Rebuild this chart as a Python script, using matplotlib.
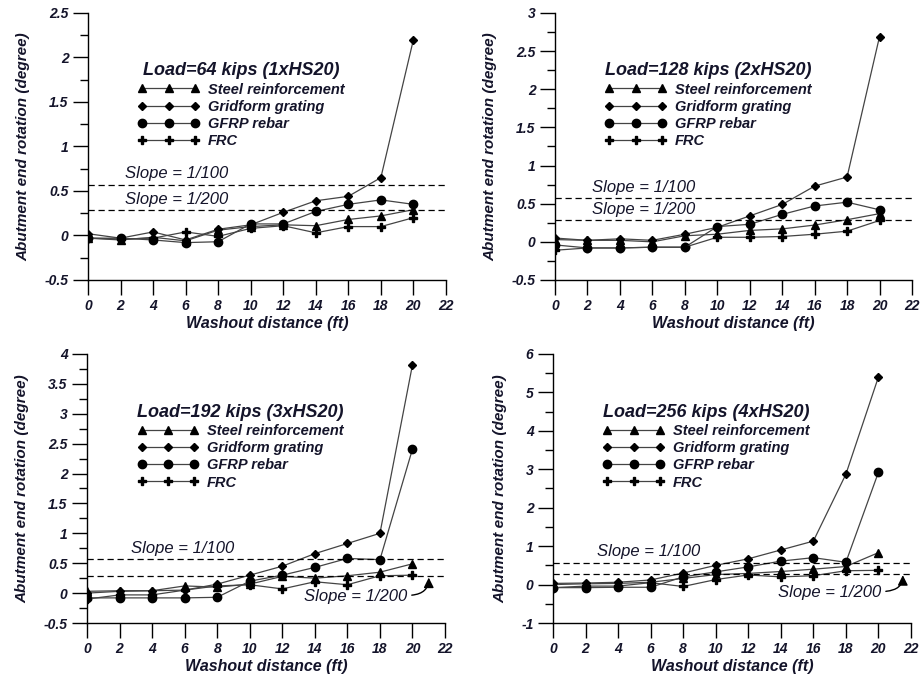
import matplotlib
matplotlib.use("Agg")
import matplotlib.pyplot as plt
from matplotlib.ticker import MultipleLocator, FuncFormatter
import numpy as np

plt.rcParams["font.family"] = ["Liberation Sans", "DejaVu Sans"]

distance = [0, 2, 4, 6, 8, 10, 12, 14, 16, 18, 20]
series_names = ["Steel reinforcement", "Gridform grating", "GFRP rebar", "FRC"]
markers = ["^", "D", "o", "P"]
marker_sizes = [5.5, 4.5, 6, 6]

loads = ["Load=64 kips (1xHS20)", "Load=128 kips (2xHS20)",
         "Load=192 kips (3xHS20)", "Load=256 kips (4xHS20)"]

# rotation (degree) per load case, order: steel, gridform, gfrp, frc
rot_64 = [
    [-0.03, -0.05, -0.02, -0.06, 0.06, 0.10, 0.12, 0.11, 0.18, 0.22, 0.29],
    [0.02, -0.03, 0.04, -0.05, 0.07, 0.12, 0.26, 0.39, 0.44, 0.65, 2.20],
    [-0.03, -0.03, -0.05, -0.08, -0.07, 0.13, 0.13, 0.27, 0.35, 0.40, 0.35],
    [-0.03, -0.04, -0.03, 0.04, -0.01, 0.08, 0.11, 0.03, 0.10, 0.10, 0.20],
]
rot_128 = [
    [0.03, 0.02, 0.02, 0.00, 0.08, 0.10, 0.15, 0.17, 0.22, 0.29, 0.37],
    [0.05, 0.02, 0.04, 0.02, 0.10, 0.19, 0.34, 0.49, 0.73, 0.85, 2.69],
    [-0.04, -0.08, -0.08, -0.07, -0.07, 0.20, 0.23, 0.36, 0.47, 0.52, 0.42],
    [-0.11, -0.08, -0.08, -0.07, -0.07, 0.06, 0.06, 0.07, 0.10, 0.14, 0.28],
]
rot_192 = [
    [0.03, 0.04, 0.04, 0.12, 0.10, 0.15, 0.28, 0.25, 0.29, 0.35, 0.49],
    [0.00, 0.03, 0.04, 0.05, 0.15, 0.30, 0.45, 0.66, 0.83, 1.00, 3.82],
    [-0.08, -0.08, -0.08, -0.08, -0.07, 0.20, 0.30, 0.43, 0.58, 0.56, 2.41],
    [-0.10, -0.03, -0.03, 0.05, 0.12, 0.14, 0.07, 0.19, 0.14, 0.29, 0.30],
]
rot_256 = [
    [0.00, 0.02, 0.03, 0.06, 0.16, 0.26, 0.29, 0.34, 0.40, 0.47, 0.83],
    [0.03, 0.04, 0.06, 0.12, 0.30, 0.50, 0.67, 0.90, 1.13, 2.87, 5.40],
    [-0.08, -0.08, -0.07, -0.07, 0.20, 0.33, 0.46, 0.61, 0.70, 0.58, 2.92],
    [-0.08, -0.04, -0.04, 0.05, -0.05, 0.13, 0.25, 0.20, 0.23, 0.36, 0.37],
]
all_rot = [rot_64, rot_128, rot_192, rot_256]

y_limits = [(-0.5, 2.5), (-0.5, 3), (-0.5, 4), (-1, 6)]
y_major = [0.5, 0.5, 0.5, 1]

slope_100 = np.degrees(np.arctan(1 / 100))
slope_200 = np.degrees(np.arctan(1 / 200))

txt_color = "#14142a"

fig = plt.figure(figsize=(9.21, 6.76), dpi=100)
positions = [
    [0.0955, 0.5858, 0.3887, 0.395],
    [0.6026, 0.5858, 0.3876, 0.395],
    [0.0945, 0.0784, 0.3887, 0.398],
    [0.6004, 0.0784, 0.3887, 0.398],
]

for i in range(4):
    ax = fig.add_axes(positions[i])
    for k in range(4):
        ax.plot(distance, all_rot[i][k], color="#444444", lw=0.9,
                marker=markers[k], ms=marker_sizes[k], mfc="black", mec="black",
                label=series_names[k])
    ax.axhline(slope_100, color="black", lw=0.9, ls=(0, (5, 3)))
    ax.axhline(slope_200, color="black", lw=0.9, ls=(0, (5, 3)))

    ax.set_xlim(0, 22)
    ax.set_ylim(*y_limits[i])
    ax.xaxis.set_major_locator(MultipleLocator(2))
    ax.yaxis.set_major_locator(MultipleLocator(y_major[i]))
    ax.yaxis.set_minor_locator(MultipleLocator(y_major[i] / 2))
    ax.yaxis.set_major_formatter(FuncFormatter(lambda v, p: "%g" % v))
    for s in ["top", "right"]:
        ax.spines[s].set_visible(False)
    ax.spines["left"].set_linewidth(1.0)
    ax.spines["bottom"].set_linewidth(1.0)
    ax.tick_params(axis="both", which="major", direction="out", length=11, width=1.0,
                   labelsize=10, labelcolor=txt_color, pad=3)
    ax.tick_params(axis="y", which="minor", direction="out", length=6, width=1.0)
    for lab in ax.get_xticklabels() + ax.get_yticklabels():
        lab.set_fontweight("bold")
        lab.set_fontstyle("italic")

    ax.set_xlabel("Washout distance (ft)", fontsize=11.5, fontweight="bold",
                  fontstyle="italic", color=txt_color, labelpad=2)
    ax.set_ylabel("Abutment end rotation (degree)", fontsize=11, fontweight="bold",
                  fontstyle="italic", color=txt_color, labelpad=10)

    leg = ax.legend(loc="upper left", bbox_to_anchor=(0.14, 0.815), frameon=False,
                    numpoints=3, handlelength=4.2, handletextpad=0.6, labelspacing=0.22,
                    borderpad=0, borderaxespad=0, title=loads[i],
                    prop={"weight": "bold", "style": "italic", "size": 10.5})
    leg.get_title().set_fontsize(13)
    leg.get_title().set_fontweight("bold")
    leg.get_title().set_fontstyle("italic")
    leg.get_title().set_color(txt_color)
    for t in leg.get_texts():
        t.set_color(txt_color)

    ymin, ymax = y_limits[i]
    off = (ymax - ymin) * 0.012
    if i < 2:
        ax.text(2.3, slope_100 + off, "Slope = 1/100", fontsize=12, fontstyle="italic",
                color=txt_color, va="bottom")
        ax.text(2.3, slope_200 + off, "Slope = 1/200", fontsize=12, fontstyle="italic",
                color=txt_color, va="bottom")
    else:
        ax.text(2.7, slope_100 + off, "Slope = 1/100", fontsize=12, fontstyle="italic",
                color=txt_color, va="bottom")
        tip_x = 21.0 if i == 2 else 21.5
        txt_y = -0.05 if i == 2 else -0.2
        ax.annotate("Slope = 1/200", xy=(tip_x, slope_200 - off * 0.5),
                    xytext=(tip_x - 1.3, txt_y), ha="right", va="center",
                    fontsize=12, fontstyle="italic", color=txt_color,
                    arrowprops=dict(arrowstyle="-|>,head_length=0.6,head_width=0.3",
                                    color="black", lw=1.0, relpos=(1.0, 0.55),
                                    connectionstyle="angle3,angleA=0,angleB=90",
                                    shrinkA=1, shrinkB=0, mutation_scale=10))

fig.savefig("out.png", dpi=100)
